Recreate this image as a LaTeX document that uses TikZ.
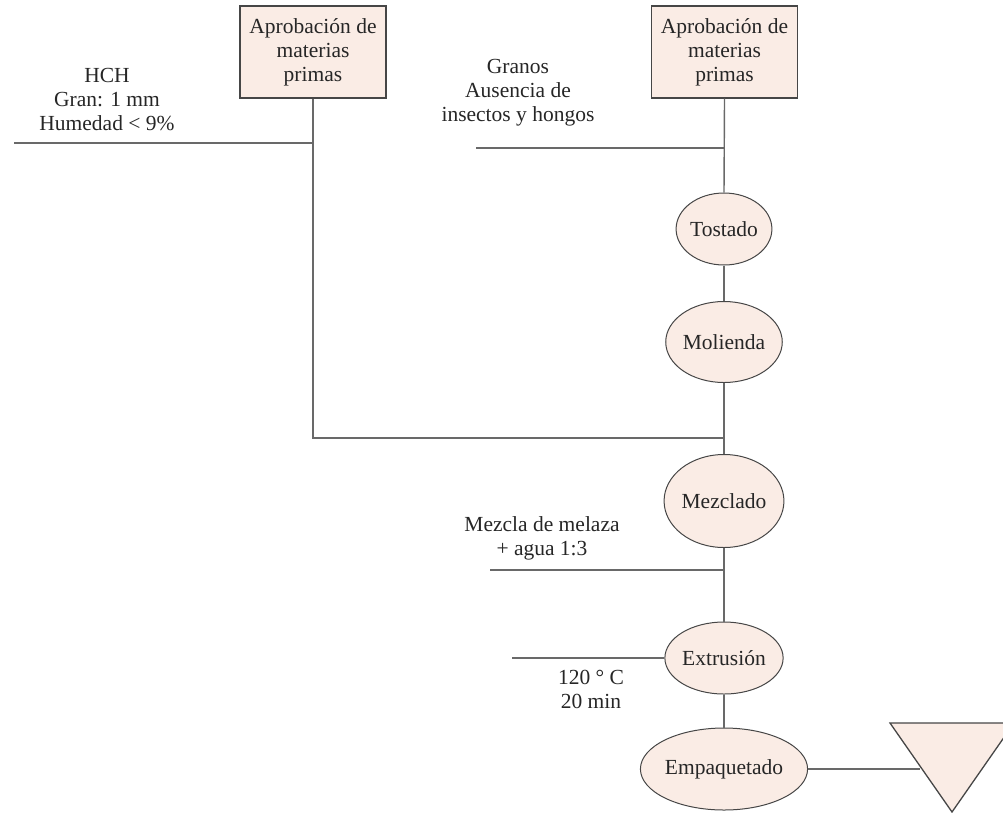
\documentclass[tikz,border=0pt]{standalone}
\usepackage{fontspec}
\setmainfont{Liberation Serif}
\usetikzlibrary{shapes.geometric}
\definecolor{fillc}{RGB}{250,236,229}
\definecolor{linec}{RGB}{105,105,105}
\definecolor{edgec}{RGB}{70,70,70}
\tikzset{
  every node/.style={font=\fontsize{21.5}{24}\selectfont, text=black!85},
  procbox/.style={draw=edgec, line width=1.3pt, fill=fillc, minimum width=146pt, minimum height=92pt, inner sep=0pt, align=center},
  procell/.style={draw=edgec, line width=1pt, fill=fillc, ellipse, inner sep=0pt},
  lbl/.style={align=center, inner sep=0pt},
  conn/.style={draw=linec, line width=1.4pt},
}
\begin{document}
\begin{tikzpicture}[x=1pt,y=-1pt]
\useasboundingbox (0,0) rectangle (1003,812);
% boxes
\node[procbox] (box1) at (313,52) {Aprobación de\\materias\\primas};
\node[procbox] (box2) at (724.5,52) {Aprobación de\\materias\\primas};
% ellipses
\node[procell, minimum width=87pt, minimum height=72pt] (tost) at (724,229) {Tostado};
\node[procell, minimum width=97pt, minimum height=81pt] (mol) at (724,342) {Molienda};
\node[procell, minimum width=112pt, minimum height=93pt] (mez) at (724,501) {Mezclado};
\node[procell, minimum width=92pt, minimum height=72pt] (ext) at (724,658) {Extrusión};
\node[procell, minimum width=158pt, minimum height=82pt] (emp) at (724,769) {Empaquetado};
% labels
\node[lbl] (hch) at (107,100) {HCH\\Gran: 1 mm\\Humedad < 9\%};
\node[lbl] (gran) at (518,93) {Granos\\Ausencia de\\insectos y hongos};
\node[lbl] (mel) at (542,538) {Mezcla de melaza\\+ agua 1:3};
\node[lbl] (temp) at (591,689) {120 ° C\\20 min};
% free ends
\coordinate (h1) at (14,143);
\coordinate (g1) at (476,148);
\coordinate (m1) at (490,570);
\coordinate (e1) at (512,658);
\coordinate (j1) at (313,438);
% triangle (storage)
\draw[draw=edgec, line width=1.3pt, fill=fillc] (890,723) -- (1014,723) -- (952,812) -- cycle;
\coordinate (tri) at (920,769);
% connectors
\draw[conn] (box1.south) -- (j1) -- (j1 -| mol.south);
\draw[conn] (h1) -- (h1 -| box1.south);
\draw[conn] (box2.south) -- (tost.north);
\draw[conn] (g1) -- (g1 -| box2.south);
\draw[conn] (tost.south) -- (mol.north);
\draw[conn] (mol.south) -- (mez.north);
\draw[conn] (mez.south) -- (ext.north);
\draw[conn] (m1) -- (m1 -| mez.south);
\draw[conn] (e1) -- (ext.west);
\draw[conn] (ext.south) -- (emp.north);
\draw[conn] (emp.east) -- (tri);
\end{tikzpicture}
\end{document}
